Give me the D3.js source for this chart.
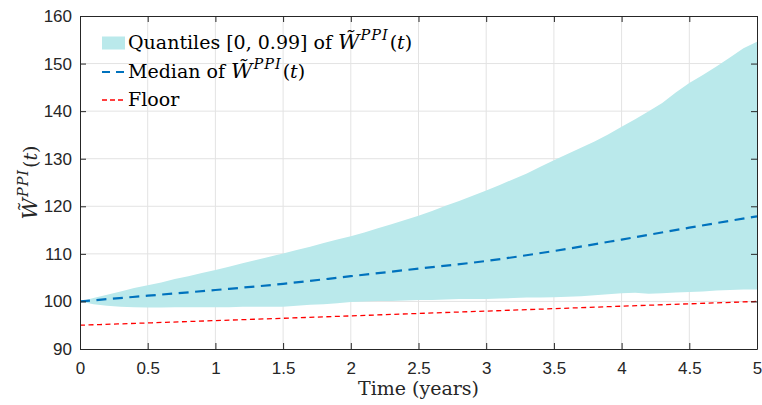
<!DOCTYPE html>
<html>
<head>
<meta charset="utf-8">
<script src="https://cdn.jsdelivr.net/npm/d3@7"></script>
<style>
  body { margin: 0; background: #fff; }
  svg { display: block; }
</style>
</head>
<body>
<div id="chart"></div>
<script>
// quantile band of W~PPI(t), every 0.1 years
var bandTimes = d3.range(0, 51).map(function(i) { return i / 10; });
var bandUpper = [100, 100.7, 101.4, 102.1, 102.8, 103.4, 104.0, 104.7, 105.3, 106.0,
                 106.6, 107.3, 108.0, 108.7, 109.4, 110.1, 110.8, 111.5, 112.3, 113.0,
                 113.7, 114.5, 115.4, 116.2, 117.1, 118.0, 119.0, 120.1, 121.1, 122.2,
                 123.3, 124.5, 125.7, 126.9, 128.3, 129.7, 131.0, 132.3, 133.6, 135.1,
                 136.7, 138.3, 140.0, 141.7, 143.9, 145.9, 147.6, 149.4, 151.3, 153.2, 154.6];
var bandLower = [100, 99.4, 99.1, 98.9, 98.8, 98.7, 98.7, 98.8, 98.8, 98.8,
                 98.8, 98.8, 98.9, 98.9, 98.9, 98.9, 99.1, 99.3, 99.4, 99.6,
                 99.9, 100.0, 100.1, 100.1, 100.2, 100.3, 100.3, 100.4, 100.5, 100.5,
                 100.5, 100.6, 100.7, 100.8, 100.8, 100.9, 101.0, 101.1, 101.3, 101.5,
                 101.7, 101.8, 101.6, 101.7, 101.9, 102.0, 102.1, 102.3, 102.4, 102.5, 102.5];

// median and floor, every 0.5 years
var lineTimes = [0, 0.5, 1, 1.5, 2, 2.5, 3, 3.5, 4, 4.5, 5];
var median = [100, 101.2, 102.4, 103.7, 105.3, 106.9, 108.5, 110.6, 113.0, 115.5, 117.9];
var floorVals = [95, 95.48, 95.97, 96.46, 96.96, 97.47, 97.97, 98.48, 99.0, 99.5, 100];

var xTicks = [0, 0.5, 1, 1.5, 2, 2.5, 3, 3.5, 4, 4.5, 5];
var yTicks = [90, 100, 110, 120, 130, 140, 150, 160];

var width = 762,
    height = 405;
// plot box (window.top is taken, so prefixed names)
var pLeft = 80, pRight = 757, pTop = 16, pBottom = 349;

var svg = d3.select("#chart").append("svg")
    .attr("width", width)
    .attr("height", height);

var x = d3.scaleLinear().domain([0, 5]).range([pLeft, pRight]);
var y = d3.scaleLinear().domain([90, 160]).range([pBottom, pTop]);

var axisColor = "#262626";
var bandColor = "#bae9eb";

// grid
svg.append("g").selectAll("line")
    .data(xTicks.slice(1, -1)).enter().append("line")
    .attr("x1", function(d) { return x(d); }).attr("x2", function(d) { return x(d); })
    .attr("y1", pTop).attr("y2", pBottom)
    .attr("stroke", "#e3e3e3").attr("stroke-width", 1);
svg.append("g").selectAll("line")
    .data(yTicks.slice(1, -1)).enter().append("line")
    .attr("x1", pLeft).attr("x2", pRight)
    .attr("y1", function(d) { return y(d); }).attr("y2", function(d) { return y(d); })
    .attr("stroke", "#e3e3e3").attr("stroke-width", 1);

svg.append("clipPath").attr("id", "clip")
    .append("rect").attr("x", pLeft).attr("y", pTop)
    .attr("width", pRight - pLeft).attr("height", pBottom - pTop);

var plot = svg.append("g").attr("clip-path", "url(#clip)");

var band = bandTimes.map(function(t, i) { return {t: t, lo: bandLower[i], hi: bandUpper[i]}; });
plot.append("path")
    .datum(band)
    .attr("fill", bandColor)
    .attr("d", d3.area()
        .x(function(d) { return x(d.t); })
        .y0(function(d) { return y(d.lo); })
        .y1(function(d) { return y(d.hi); }));

var line = d3.line()
    .x(function(d) { return x(d[0]); })
    .y(function(d) { return y(d[1]); })
    .curve(d3.curveMonotoneX);

plot.append("path")
    .datum(lineTimes.map(function(t, i) { return [t, floorVals[i]]; }))
    .attr("fill", "none")
    .attr("stroke", "#ff0000")
    .attr("stroke-width", 1.3)
    .attr("stroke-dasharray", "5,3.5")
    .attr("d", line);

plot.append("path")
    .datum(lineTimes.map(function(t, i) { return [t, median[i]]; }))
    .attr("fill", "none")
    .attr("stroke", "#0072bd")
    .attr("stroke-width", 2.2)
    .attr("stroke-dasharray", "10,6.5")
    .attr("d", line);

// axes (box with inward ticks, MATLAB style)
var xAxis = svg.append("g")
    .attr("transform", "translate(0," + pBottom + ")")
    .call(d3.axisBottom(x).tickValues(xTicks).tickSizeInner(-6).tickSizeOuter(0).tickPadding(13)
        .tickFormat(d3.format("")));
var xTop = svg.append("g")
    .attr("transform", "translate(0," + pTop + ")")
    .call(d3.axisTop(x).tickValues(xTicks).tickSizeInner(-6).tickSizeOuter(0).tickFormat(""));
var yAxis = svg.append("g")
    .attr("transform", "translate(" + pLeft + ",0)")
    .call(d3.axisLeft(y).tickValues(yTicks).tickSizeInner(-6).tickSizeOuter(0).tickPadding(8));
var yRight = svg.append("g")
    .attr("transform", "translate(" + pRight + ",0)")
    .call(d3.axisRight(y).tickValues(yTicks).tickSizeInner(-6).tickSizeOuter(0).tickFormat(""));

[xAxis, xTop, yAxis, yRight].forEach(function(g) {
    g.selectAll("path, line").attr("stroke", axisColor).attr("stroke-width", 1);
    g.selectAll("text")
        .attr("fill", axisColor)
        .style("font-family", "'Liberation Sans', Arial, sans-serif")
        .style("font-size", "17px");
});

var serif = "'DejaVu Serif', 'Liberation Serif', serif";

// W~^{PPI}(t) with tspans, a bit larger like LaTeX math
function wLabel(sel, size) {
    sel.append("tspan").style("font-style", "italic").style("font-size", (size * 1.1) + "px")
        .text("W\u0303");
    sel.append("tspan").style("font-style", "italic").style("font-size", (size * 0.76) + "px")
        .style("letter-spacing", "1px")
        .attr("dy", -size * 0.48).attr("dx", 1).text("PPI");
    sel.append("tspan").attr("dy", size * 0.48).attr("dx", 1).text("(");
    sel.append("tspan").style("font-style", "italic").text("t");
    sel.append("tspan").text(")");
}

// x label
svg.append("text")
    .attr("x", (pLeft + pRight) / 2).attr("y", 395)
    .attr("text-anchor", "middle")
    .style("font-family", serif).style("font-size", "19px").attr("fill", axisColor)
    .text("Time (years)");

// y label
var yl = svg.append("text")
    .attr("transform", "translate(37," + ((pTop + pBottom) / 2) + ") rotate(-90)")
    .attr("text-anchor", "middle")
    .style("font-family", serif).style("font-size", "19px").attr("fill", axisColor);
wLabel(yl, 19);

// legend
var legend = svg.append("g");
var rows = [43, 72, 100];

legend.append("rect")
    .attr("x", 102).attr("y", rows[0] - 6.5).attr("width", 23).attr("height", 13)
    .attr("fill", bandColor);
legend.append("line")
    .attr("x1", 102).attr("x2", 125).attr("y1", rows[1]).attr("y2", rows[1])
    .attr("stroke", "#0072bd").attr("stroke-width", 2.2).attr("stroke-dasharray", "8,6");
legend.append("line")
    .attr("x1", 102).attr("x2", 125).attr("y1", rows[2]).attr("y2", rows[2])
    .attr("stroke", "#ff0000").attr("stroke-width", 1.3).attr("stroke-dasharray", "5,3");

var t1 = legend.append("text").attr("x", 128).attr("y", rows[0] + 6)
    .style("font-family", serif).style("font-size", "19px").attr("fill", "#000");
t1.append("tspan").text("Quantiles [0, 0.99] of ");
wLabel(t1, 19);

var t2 = legend.append("text").attr("x", 128).attr("y", rows[1] + 6)
    .style("font-family", serif).style("font-size", "19px").attr("fill", "#000");
t2.append("tspan").text("Median of ");
wLabel(t2, 19);

legend.append("text").attr("x", 128).attr("y", rows[2] + 6)
    .style("font-family", serif).style("font-size", "19px").attr("fill", "#000")
    .text("Floor");
</script>
</body>
</html>
